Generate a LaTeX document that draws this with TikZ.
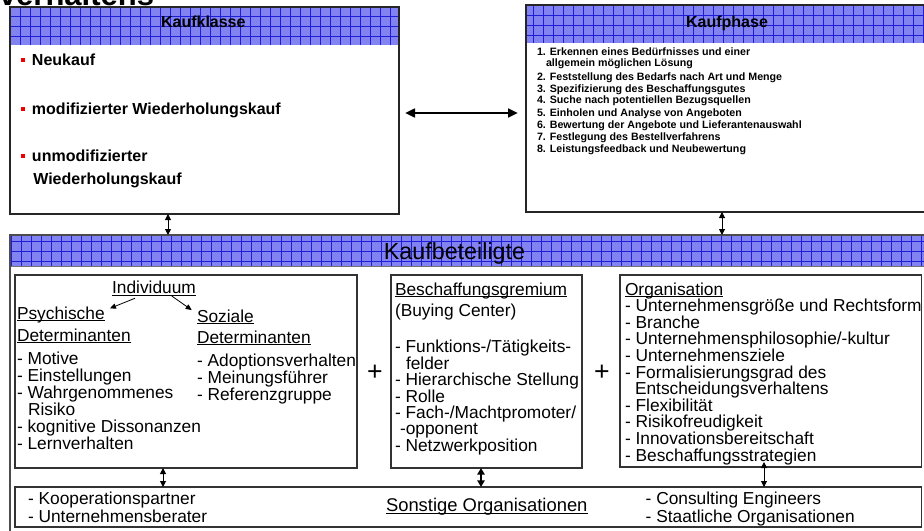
\documentclass[tikz,border=0pt]{standalone}
\usepackage{fontspec}
\setmainfont{Liberation Sans}
\usetikzlibrary{arrows.meta,calc}

\definecolor{hdrfill}{RGB}{130,130,240}
\definecolor{hdrgrid}{RGB}{30,30,215}
\definecolor{bullred}{RGB}{238,0,0}

% underline at a fixed depth below the baseline
\newcommand\ulin[1]{\setbox0=\hbox{#1}\rlap{\rule[-1.7pt]{\wd0}{0.75pt}}\box0}
% small red square bullet
\newcommand\redbul{\makebox[8.25pt][l]{\textcolor{bullred}{\rule[2.8pt]{3pt}{3pt}}}}

% header band: blue fill with a 10px grid
\newcommand\hdrband[6]{%
  \begin{scope}
    \clip (#1,#2) rectangle (#3,#4);
    \fill[hdrfill] (#1,#2) rectangle (#3,#4);
    \foreach \gx in {0,...,93} \draw[gridln] ({#5+10*\gx},#2) -- ({#5+10*\gx},#4);
    \foreach \gy in {0,...,4} \draw[gridln] (#1,{#6+10*\gy}) -- (#3,{#6+10*\gy});
  \end{scope}}

\begin{document}
\begin{tikzpicture}[x=0.75pt,y=-0.75pt,
  every node/.style={inner sep=0pt,outer sep=0pt},
  gridln/.style={draw=hdrgrid,line width=0.4pt},
  mainframe/.style={draw=black!85,line width=1.4pt,anchor=north west},
  outerframe/.style={draw=black!70,line width=0.9pt,anchor=north west},
  innerframe/.style={draw=black!80,line width=0.8pt,anchor=north west},
  txt/.style={anchor=base west,font=\fontsize{13}{15}\selectfont},
  kkitem/.style={anchor=base west,font=\bfseries\fontsize{12}{14}\selectfont},
  kpitem/.style={anchor=base west,font=\bfseries\fontsize{8}{9.6}\selectfont},
  hdrtxt/.style={anchor=base,font=\bfseries\fontsize{12}{14}\selectfont},
  plus/.style={font=\fontsize{20}{22}\selectfont},
  bigarr/.style={{Triangle[length=7.5pt,width=6.5pt]}-{Triangle[length=7.5pt,width=6.5pt]},line width=1.9pt},
  thinarr/.style={{Triangle[length=4.5pt,width=4.5pt]}-{Triangle[length=4.5pt,width=4.5pt]},line width=0.75pt},
  midarr/.style={{Triangle[length=5pt,width=5.5pt]}-{Triangle[length=5pt,width=5.5pt]},line width=1.5pt},
  onearr/.style={-{Triangle[length=4.5pt,width=4pt]},line width=0.6pt}]

\useasboundingbox (0,0) rectangle (924,531);
\clip (0,0) rectangle (924,531);

% header bands
\hdrband{10}{7}{399}{45}{0.7}{6}
\hdrband{526}{5}{930}{43}{3.3}{5}
\hdrband{10}{235}{932}{267}{1.7}{231.7}
\draw[black!55,line width=0.6pt] (10,266.5) -- (932,266.5);

% title line, running off the top edge
\node[anchor=base west,font=\bfseries\fontsize{23.25}{26}\selectfont] (ttl) at (-1,6) {verhaltens};

% frames
\node[mainframe,minimum width=291.75pt,minimum height=155.25pt] (kk) at (10,7) {};
\node[mainframe,minimum width=303pt,minimum height=155.25pt] (kp) at (526,5) {};
\node[outerframe,minimum width=691.5pt,minimum height=232.5pt] (kb) at (10,235) {};
\node[innerframe,minimum width=256.5pt,minimum height=144.75pt] (ind) at (15,275) {};
\node[innerframe,minimum width=143.25pt,minimum height=144.75pt] (bes) at (391,275) {};
\node[innerframe,minimum width=226.125pt,minimum height=144pt] (org) at (620,275) {};
\node[innerframe,minimum width=679.875pt,minimum height=30pt] (son) at (15,487) {};

% header texts
\node[hdrtxt] (kkh) at (203.3,27.3) {Kaufklasse};
\node[hdrtxt] (kph) at (727,27.3) {Kaufphase};
\node[anchor=base,font=\fontsize{17.5}{20}\selectfont] (kbh) at (454.5,259.8) {Kaufbeteiligte};

% Kaufklasse items
\node[kkitem] (kk1) at (21,66) {\redbul Neukauf};
\node[kkitem] (kk2) at (21,114.5) {\redbul modifizierter Wiederholungskauf};
\node[kkitem] (kk3) at (21,161.5) {\redbul unmodifizierter};
\node[kkitem] (kk4) at (33.3,184.5) {Wiederholungskauf};

% Kaufphase steps
\node[kpitem] (kp1) at (537,55.7) {1. Erkennen eines Bedürfnisses und einer};
\node[kpitem] (kp1b) at (546,66.2) {allgemein möglichen Lösung};
\node[kpitem] (kp2) at (537,80.7) {2. Feststellung des Bedarfs nach Art und Menge};
\node[kpitem] (kp3) at (537,92.3) {3. Spezifizierung des Beschaffungsgutes};
\node[kpitem] (kp4) at (537,104) {4. Suche nach potentiellen Bezugsquellen};
\node[kpitem] (kp5) at (537,116.3) {5. Einholen und Analyse von Angeboten};
\node[kpitem] (kp6) at (537,128.7) {6. Bewertung der Angebote und Lieferantenauswahl};
\node[kpitem] (kp7) at (537,140.3) {7. Festlegung des Bestellverfahrens};
\node[kpitem] (kp8) at (537,152.7) {8. Leistungsfeedback und Neubewertung};

% Individuum
\node[txt,anchor=base] (indt) at (154,293.5) {\ulin{Individuum}};
\node[txt] (psy1) at (17,319) {\ulin{Psychische}};
\node[txt] (psy2) at (17,341) {\ulin{Determinanten}};
\node[txt] (soz1) at (197,322) {\ulin{Soziale}};
\node[txt] (soz2) at (197,343) {\ulin{Determinanten}};
\node[txt] (pl1) at (17,364) {- Motive};
\node[txt] (pl2) at (17,381) {- Einstellungen};
\node[txt] (pl3) at (17,398) {- Wahrgenommenes};
\node[txt] (pl4) at (28,415) {Risiko};
\node[txt] (pl5) at (17,432) {- kognitive Dissonanzen};
\node[txt] (pl6) at (17,449) {- Lernverhalten};
\node[txt] (sl1) at (197,366) {- Adoptionsverhalten};
\node[txt] (sl2) at (197,383) {- Meinungsführer};
\node[txt] (sl3) at (197,400) {- Referenzgruppe};
\draw[onearr] ($(indt.south)+(-19,2.5)$) -- ($(psy1.north east)+(5.3,1.9)$);
\draw[onearr] ($(indt.south)+(17.7,0.2)$) -- ($(soz1.north west)+(-5.3,0.6)$);

% Beschaffungsgremium
\node[txt] (bt) at (395,295) {\ulin{Beschaffungsgremium}};
\node[txt] (bc) at (395,316) {(Buying Center)};
\node[txt] (bl1) at (395,352.5) {- Funktions-/Tätigkeits-};
\node[txt] (bl1b) at (406,369) {felder};
\node[txt] (bl2) at (395,385.5) {- Hierarchische Stellung};
\node[txt] (bl3) at (395,402) {- Rolle};
\node[txt] (bl4) at (395,418) {- Fach-/Machtpromoter/};
\node[txt] (bl4b) at (400,434.5) {-opponent};
\node[txt] (bl5) at (395,451) {- Netzwerkposition};

% Organisation
\node[txt] (ot) at (625,295) {\ulin{Organisation}};
\node[txt] (ol1) at (625,311.6) {- Unternehmensgröße und Rechtsform};
\node[txt] (ol2) at (625,328.2) {- Branche};
\node[txt] (ol3) at (625,344.8) {- Unternehmensphilosophie/-kultur};
\node[txt] (ol4) at (625,361.4) {- Unternehmensziele};
\node[txt] (ol5) at (625,378) {- Formalisierungsgrad des};
\node[txt] (ol5b) at (635,394.6) {Entscheidungsverhaltens};
\node[txt] (ol6) at (625,411.2) {- Flexibilität};
\node[txt] (ol7) at (625,427.8) {- Risikofreudigkeit};
\node[txt] (ol8) at (625,444.4) {- Innovationsbereitschaft};
\node[txt] (ol9) at (625,461) {- Beschaffungsstrategien};

% plus signs
\node[plus] (p1) at (375,373) {+};
\node[plus] (p2) at (602,373) {+};

% Sonstige Organisationen
\node[txt] (so1) at (28,504) {- Kooperationspartner};
\node[txt] (so2) at (28,522.7) {- Unternehmensberater};
\node[txt,font=\fontsize{13.8}{15}\selectfont] (sot) at (386,511.7) {\ulin{Sonstige Organisationen}};
\node[txt] (so3) at (645.7,504) {- Consulting Engineers};
\node[txt] (so4) at (645.7,522) {- Staatliche Organisationen};

% connectors
\coordinate (h1) at ($(kk.east)+(6,2.5)$);
\draw[bigarr] (h1) -- ($(h1 -| kp.west)+(-8,0)$);
\coordinate (t1) at ($(kk.south)+(-36.5,0)$);
\draw[thinarr] (t1) -- (t1 |- kb.north);
\coordinate (t2) at ($(kp.south)+(-6,0)$);
\draw[thinarr] (t2) -- (t2 |- kb.north);
\coordinate (b1) at ($(ind.south)+(-23,0)$);
\draw[thinarr] (b1) -- (b1 |- son.north);
\coordinate (b2) at ($(bes.south)+(-5.5,0)$);
\draw[midarr] (b2) -- (b2 |- son.north);
\coordinate (b3) at ($(org.south)+(-6.75,-5)$);
\draw[thinarr] (b3) -- (b3 |- son.north);
\end{tikzpicture}
\end{document}
